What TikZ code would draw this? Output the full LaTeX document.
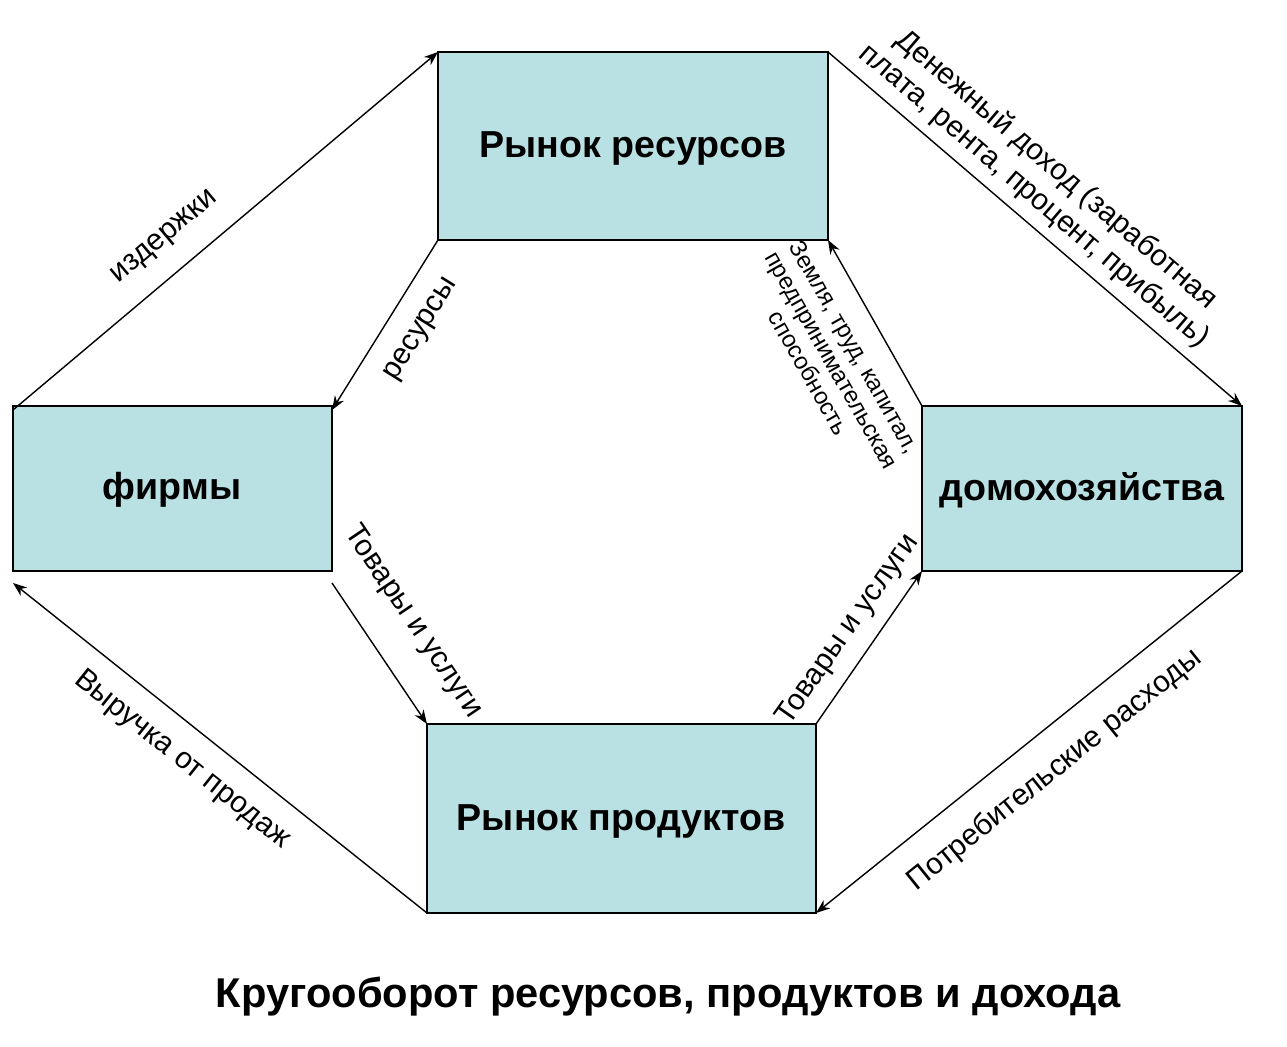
\documentclass[tikz,border=0pt]{standalone}
\usepackage{fontspec}
\setmainfont{Liberation Sans}
\usetikzlibrary{arrows.meta}
\begin{document}
\begin{tikzpicture}[x=0.02cm,y=-0.02cm,
  box/.style={draw,fill={rgb,255:red,185;green,224;blue,227},line width=0.8pt},
  btxt/.style={font=\fontsize{21.4}{24}\selectfont\bfseries},
  lbl/.style={font=\fontsize{17}{19.5}\selectfont,align=center},
  conn/.style={-{Stealth[length=8pt,width=6pt]},line width=0.8pt}]
\useasboundingbox (0,0) rectangle (1287,1047);
\draw[box] (438,52) rectangle (828,240); \node[btxt] (rr) at (633,148) {Рынок ресурсов};
\draw[box] (13,406) rectangle (332,571); \node[btxt] (f) at (172,490) {фирмы};
\draw[box] (922,406) rectangle (1242,571); \node[btxt] (d) at (1082,490) {домохозяйства};
\draw[box] (427,724) rectangle (816,913); \node[btxt] (rp) at (621,821) {Рынок продуктов};
\coordinate (a1) at (13,410); \coordinate (a2) at (438,52);
\coordinate (b1) at (438,240); \coordinate (b2) at (332,410);
\coordinate (c1) at (828,52); \coordinate (c2) at (1242,406);
\coordinate (d1) at (922,406); \coordinate (d2) at (828,240);
\coordinate (e1) at (332,583); \coordinate (e2) at (427,724);
\coordinate (g1) at (816,724); \coordinate (g2) at (922,571);
\coordinate (h1) at (1242,571); \coordinate (h2) at (816,913);
\coordinate (k1) at (427,913); \coordinate (k2) at (13,583);
\draw[conn] (a1)--(a2); \draw[conn] (b1)--(b2); \draw[conn] (c1)--(c2); \draw[conn] (d1)--(d2);
\draw[conn] (e1)--(e2); \draw[conn] (g1)--(g2); \draw[conn] (h1)--(h2); \draw[conn] (k1)--(k2);
\node[lbl,rotate=40] (l1) at (165,238) {издержки};
\node[lbl,rotate=58] (l2) at (422,330) {ресурсы};
\node[lbl,rotate=-40.5] (l3) at (1045,183) {Денежный доход (заработная\\плата, рента, процент, прибыль)};
\node[font=\fontsize{13.5}{15}\selectfont,align=center,rotate=-60.5] (l4) at (832,360) {Земля, труд, капитал,\\предпринимательская\\способность};
\node[lbl,rotate=-56] (l5) at (413,622) {Товары и услуги};
\node[lbl,rotate=55] (l6) at (848,630) {Товары и услуги};
\node[lbl,rotate=38.8] (l7) at (1055,770) {Потребительские  расходы};
\node[lbl,rotate=-38.6] (l8) at (182,760) {Выручка  от  продаж};
\node[font=\fontsize{23.7}{27}\selectfont\bfseries] (t) at (668,997) {Кругооборот ресурсов, продуктов и дохода};
\end{tikzpicture}
\end{document}
